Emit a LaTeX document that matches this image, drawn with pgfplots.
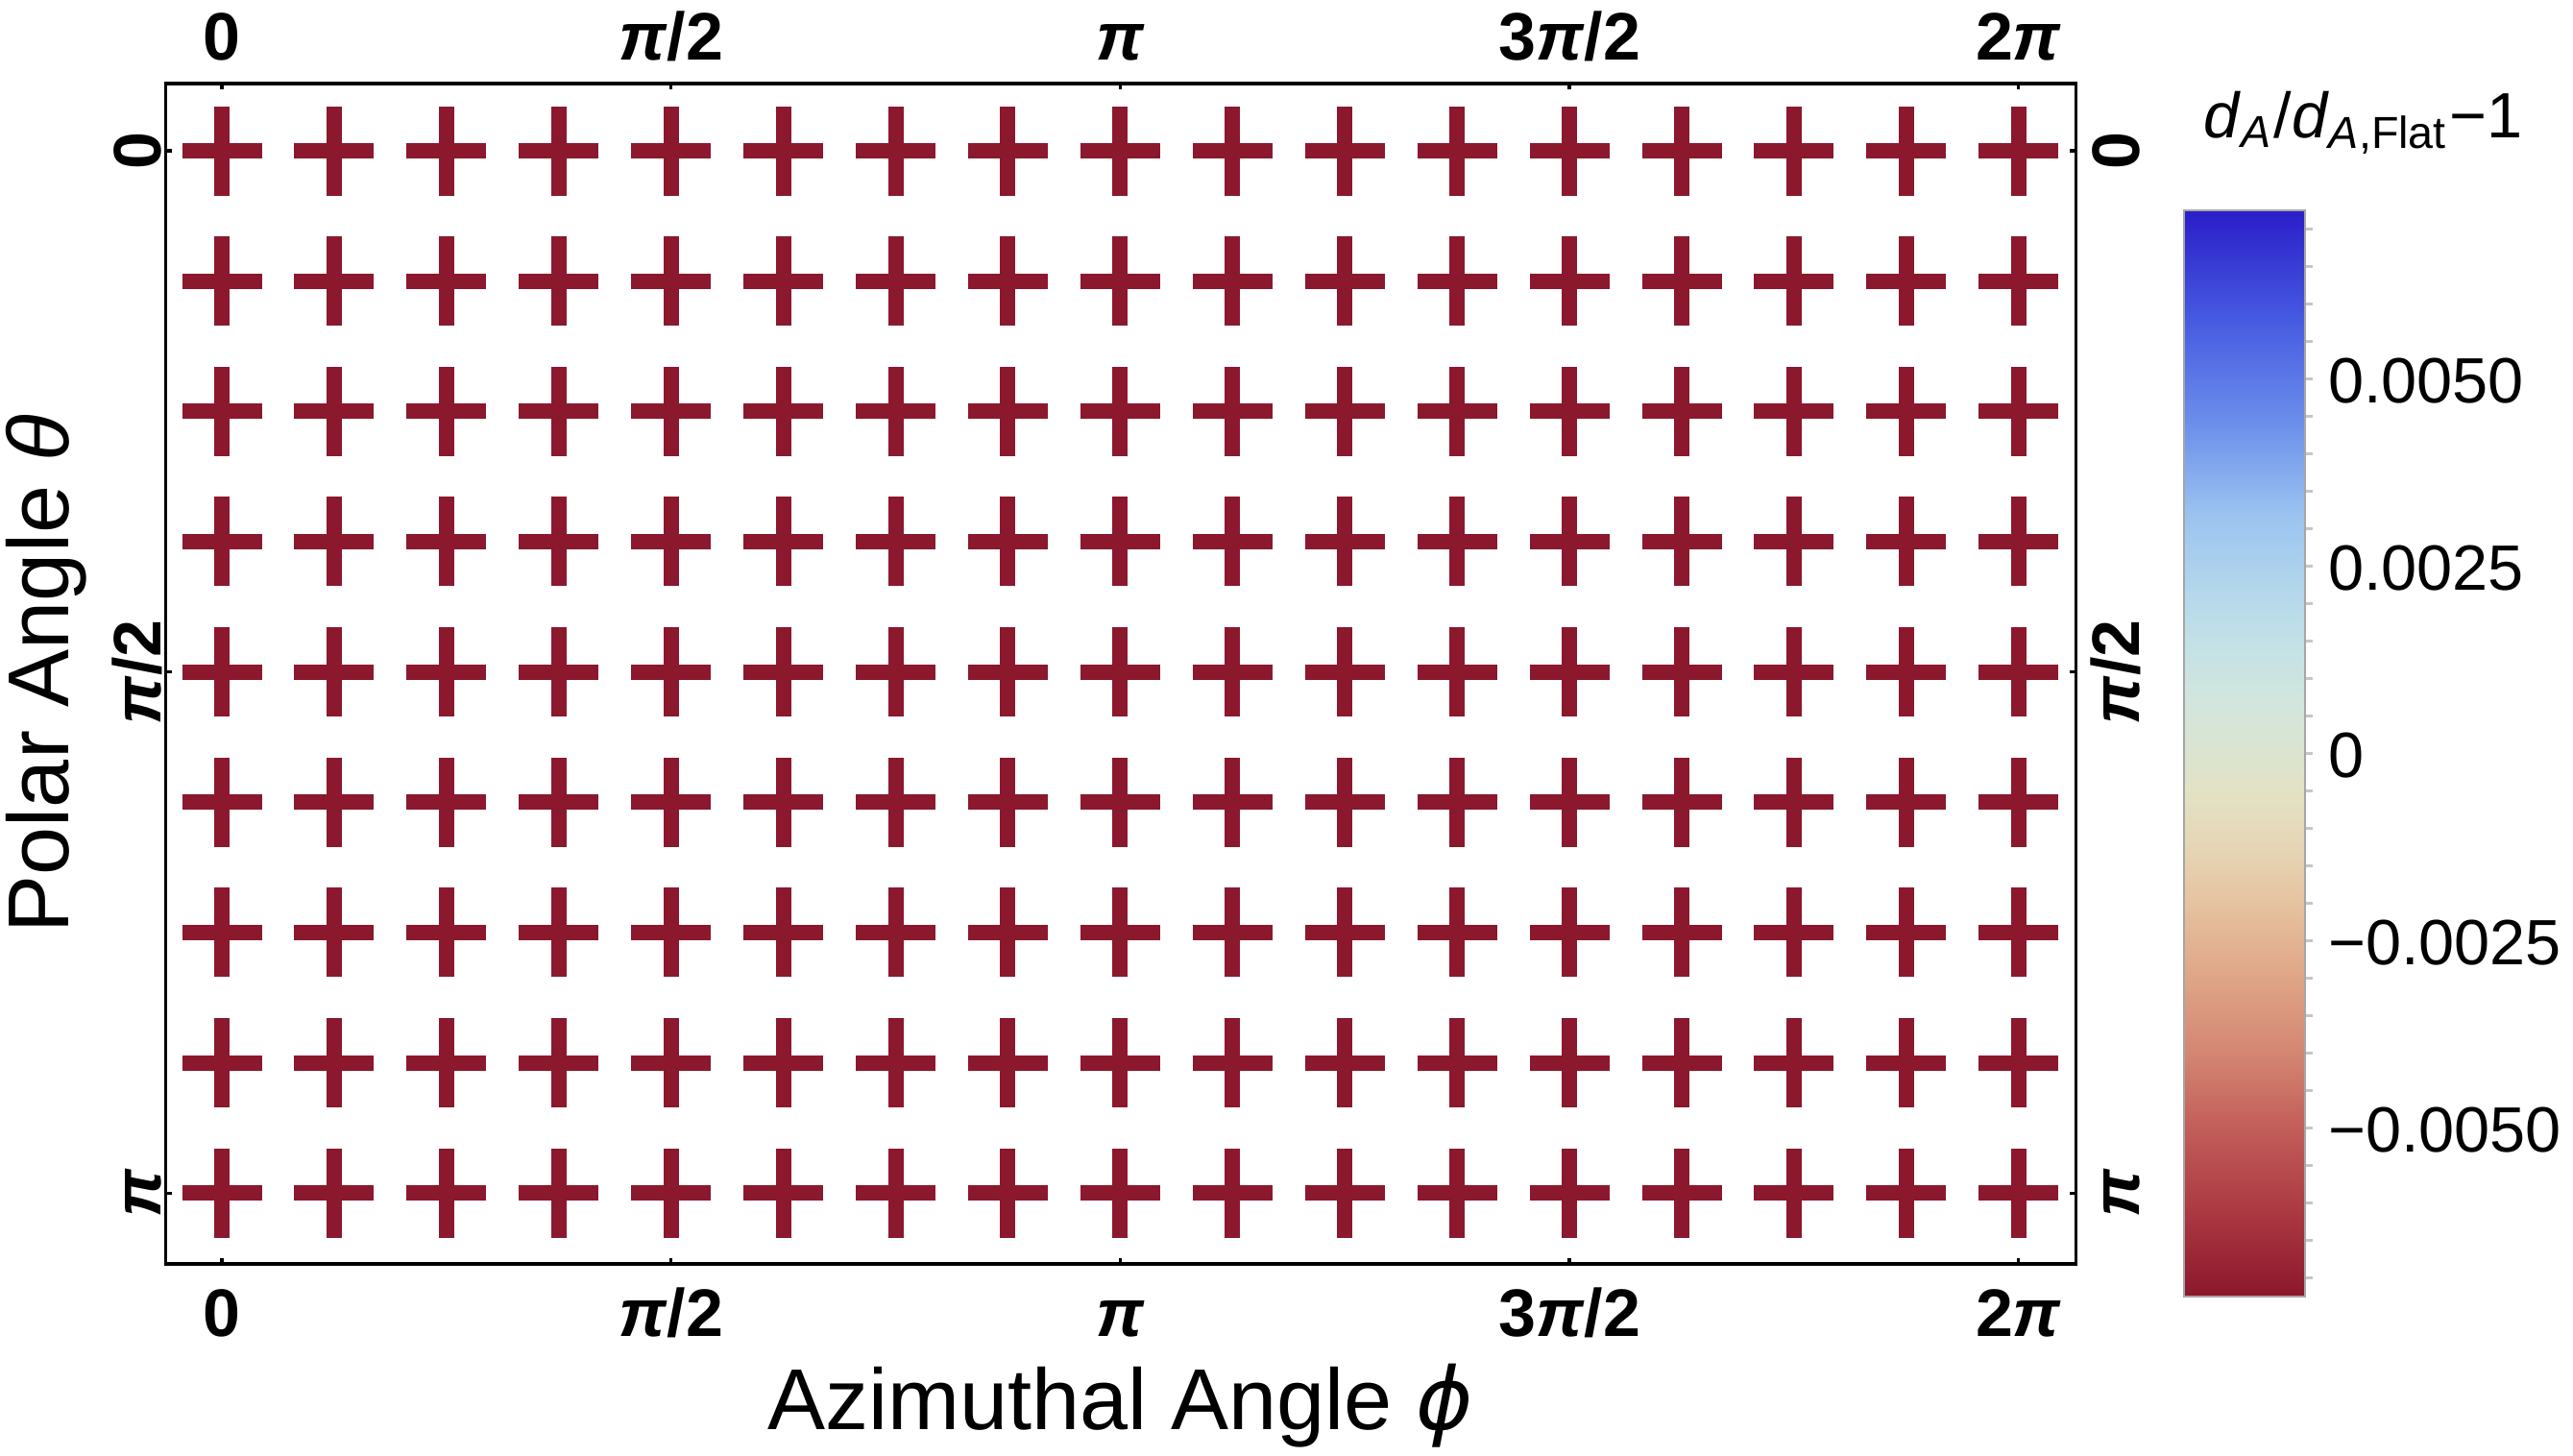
\documentclass[border=0pt]{standalone}
\usepackage{pgfplots}
\pgfplotsset{compat=1.18}
\usepackage{pgfplotstable}
\usepackage{fontspec}
\setmainfont{Liberation Sans}
\newfontfamily\dejavu{DejaVu Sans}
\usetikzlibrary{calc}

\definecolor{markred}{RGB}{139,24,45}

% colour scale of the bar
\pgfplotsset{colormap={dmap}{
  rgb255(0pt)=(139,23,44)
  rgb255(7.5pt)=(170,55,65)
  rgb255(15.8pt)=(195,95,90)
  rgb255(22.6pt)=(212,135,115)
  rgb255(29.4pt)=(223,165,135)
  rgb255(36.3pt)=(230,195,160)
  rgb255(41pt)=(230,212,180)
  rgb255(46pt)=(228,225,195)
  rgb255(50pt)=(220,228,208)
  rgb255(55pt)=(210,230,222)
  rgb255(60pt)=(195,225,230)
  rgb255(65pt)=(180,215,235)
  rgb255(72pt)=(155,195,240)
  rgb255(80pt)=(110,145,235)
  rgb255(90pt)=(70,90,225)
  rgb255(100pt)=(42,30,200)
}}

% phi and theta in units of pi, dA = d_A/d_A,flat - 1 (all at the bottom of the scale)
\pgfplotstableread[row sep=\\]{
phi theta dA\\
0 0 -0.00725\\ 0.125 0 -0.00725\\ 0.25 0 -0.00725\\ 0.375 0 -0.00725\\ 0.5 0 -0.00725\\ 0.625 0 -0.00725\\ 0.75 0 -0.00725\\ 0.875 0 -0.00725\\ 1 0 -0.00725\\ 1.125 0 -0.00725\\ 1.25 0 -0.00725\\ 1.375 0 -0.00725\\ 1.5 0 -0.00725\\ 1.625 0 -0.00725\\ 1.75 0 -0.00725\\ 1.875 0 -0.00725\\ 2 0 -0.00725\\
0 0.125 -0.00725\\ 0.125 0.125 -0.00725\\ 0.25 0.125 -0.00725\\ 0.375 0.125 -0.00725\\ 0.5 0.125 -0.00725\\ 0.625 0.125 -0.00725\\ 0.75 0.125 -0.00725\\ 0.875 0.125 -0.00725\\ 1 0.125 -0.00725\\ 1.125 0.125 -0.00725\\ 1.25 0.125 -0.00725\\ 1.375 0.125 -0.00725\\ 1.5 0.125 -0.00725\\ 1.625 0.125 -0.00725\\ 1.75 0.125 -0.00725\\ 1.875 0.125 -0.00725\\ 2 0.125 -0.00725\\
0 0.25 -0.00725\\ 0.125 0.25 -0.00725\\ 0.25 0.25 -0.00725\\ 0.375 0.25 -0.00725\\ 0.5 0.25 -0.00725\\ 0.625 0.25 -0.00725\\ 0.75 0.25 -0.00725\\ 0.875 0.25 -0.00725\\ 1 0.25 -0.00725\\ 1.125 0.25 -0.00725\\ 1.25 0.25 -0.00725\\ 1.375 0.25 -0.00725\\ 1.5 0.25 -0.00725\\ 1.625 0.25 -0.00725\\ 1.75 0.25 -0.00725\\ 1.875 0.25 -0.00725\\ 2 0.25 -0.00725\\
0 0.375 -0.00725\\ 0.125 0.375 -0.00725\\ 0.25 0.375 -0.00725\\ 0.375 0.375 -0.00725\\ 0.5 0.375 -0.00725\\ 0.625 0.375 -0.00725\\ 0.75 0.375 -0.00725\\ 0.875 0.375 -0.00725\\ 1 0.375 -0.00725\\ 1.125 0.375 -0.00725\\ 1.25 0.375 -0.00725\\ 1.375 0.375 -0.00725\\ 1.5 0.375 -0.00725\\ 1.625 0.375 -0.00725\\ 1.75 0.375 -0.00725\\ 1.875 0.375 -0.00725\\ 2 0.375 -0.00725\\
0 0.5 -0.00725\\ 0.125 0.5 -0.00725\\ 0.25 0.5 -0.00725\\ 0.375 0.5 -0.00725\\ 0.5 0.5 -0.00725\\ 0.625 0.5 -0.00725\\ 0.75 0.5 -0.00725\\ 0.875 0.5 -0.00725\\ 1 0.5 -0.00725\\ 1.125 0.5 -0.00725\\ 1.25 0.5 -0.00725\\ 1.375 0.5 -0.00725\\ 1.5 0.5 -0.00725\\ 1.625 0.5 -0.00725\\ 1.75 0.5 -0.00725\\ 1.875 0.5 -0.00725\\ 2 0.5 -0.00725\\
0 0.625 -0.00725\\ 0.125 0.625 -0.00725\\ 0.25 0.625 -0.00725\\ 0.375 0.625 -0.00725\\ 0.5 0.625 -0.00725\\ 0.625 0.625 -0.00725\\ 0.75 0.625 -0.00725\\ 0.875 0.625 -0.00725\\ 1 0.625 -0.00725\\ 1.125 0.625 -0.00725\\ 1.25 0.625 -0.00725\\ 1.375 0.625 -0.00725\\ 1.5 0.625 -0.00725\\ 1.625 0.625 -0.00725\\ 1.75 0.625 -0.00725\\ 1.875 0.625 -0.00725\\ 2 0.625 -0.00725\\
0 0.75 -0.00725\\ 0.125 0.75 -0.00725\\ 0.25 0.75 -0.00725\\ 0.375 0.75 -0.00725\\ 0.5 0.75 -0.00725\\ 0.625 0.75 -0.00725\\ 0.75 0.75 -0.00725\\ 0.875 0.75 -0.00725\\ 1 0.75 -0.00725\\ 1.125 0.75 -0.00725\\ 1.25 0.75 -0.00725\\ 1.375 0.75 -0.00725\\ 1.5 0.75 -0.00725\\ 1.625 0.75 -0.00725\\ 1.75 0.75 -0.00725\\ 1.875 0.75 -0.00725\\ 2 0.75 -0.00725\\
0 0.875 -0.00725\\ 0.125 0.875 -0.00725\\ 0.25 0.875 -0.00725\\ 0.375 0.875 -0.00725\\ 0.5 0.875 -0.00725\\ 0.625 0.875 -0.00725\\ 0.75 0.875 -0.00725\\ 0.875 0.875 -0.00725\\ 1 0.875 -0.00725\\ 1.125 0.875 -0.00725\\ 1.25 0.875 -0.00725\\ 1.375 0.875 -0.00725\\ 1.5 0.875 -0.00725\\ 1.625 0.875 -0.00725\\ 1.75 0.875 -0.00725\\ 1.875 0.875 -0.00725\\ 2 0.875 -0.00725\\
0 1 -0.00725\\ 0.125 1 -0.00725\\ 0.25 1 -0.00725\\ 0.375 1 -0.00725\\ 0.5 1 -0.00725\\ 0.625 1 -0.00725\\ 0.75 1 -0.00725\\ 0.875 1 -0.00725\\ 1 1 -0.00725\\ 1.125 1 -0.00725\\ 1.25 1 -0.00725\\ 1.375 1 -0.00725\\ 1.5 1 -0.00725\\ 1.625 1 -0.00725\\ 1.75 1 -0.00725\\ 1.875 1 -0.00725\\ 2 1 -0.00725\\
}\grid

\begin{document}
\begin{tikzpicture}
\begin{axis}[name=main,
  scale only axis, width=298.3pt, height=184.35pt,
  xmin=-0.0625, xmax=2.0636,
  ymin=-0.0645, ymax=1.068, y dir=reverse,
  axis line style={line width=0.5pt},
  tick align=inside, major tick length=0.9pt,
  tick style={line width=0.5pt, black},
  xtick={0,0.5,1,1.5,2},
  xticklabels={0,\textit{π}/2,\textit{π},3\textit{π}/2,2\textit{π}},
  ytick={0,0.5,1},
  yticklabels={0,\textit{π}/2,\textit{π}},
  ticklabel style={font=\fontsize{10.5}{12}\selectfont\bfseries, text height=7.6pt, text depth=0pt},
  xticklabel style={anchor=north, inner sep=0pt, yshift=-3.5pt},
  yticklabel style={rotate=90, anchor=south, inner sep=0pt, yshift=0.6pt},
  xlabel={Azimuthal Angle {\dejavu\itshape ϕ}},
  ylabel={Polar Angle \textit{θ}},
  label style={font=\fontsize{13.5}{16}\selectfont},
  xlabel style={at={(axis description cs:0.5,0)}, anchor=center, yshift=-22.2pt},
  ylabel style={at={(axis description cs:0,0.5)}, anchor=center, rotate=0, yshift=18.7pt},
  colormap name=dmap,
  point meta min=-0.00725, point meta max=0.00725,
  colorbar,
  colorbar/width=18.9pt,
  colorbar style={
    at={(parent axis.north east)}, anchor=north west,
    xshift=8.4pt, yshift=-19.8pt,
    scale only axis, width=18.9pt, height=169.65pt,
    scaled y ticks=false,
    axis line style={gray!70, line width=0.3pt},
    ytick pos=right,
    ytick={-0.005,-0.0025,0,0.0025,0.005},
    yticklabels={−0.0050,−0.0025,0,0.0025,0.0050},
    minor ytick={-0.007,-0.0065,-0.006,-0.0055,-0.0045,-0.004,-0.0035,-0.003,-0.002,-0.0015,-0.001,-0.0005,0.0005,0.001,0.0015,0.002,0.003,0.0035,0.004,0.0045,0.0055,0.006,0.0065,0.007},
    tick align=outside, major tick length=1.2pt, minor tick length=1.2pt,
    tick style={gray!45, line width=0.35pt},
    yticklabel style={font=\fontsize{10}{12}\selectfont\mdseries, anchor=west, inner sep=0pt, xshift=2.2pt},
  },
]
\addplot[only marks, mark=+, mark size=6.975pt, color=markred,
  mark options={line width=2.4pt, xscale=0.892}]
  table[x=phi, y=theta] {\grid};
\end{axis}
% same frame again, for the labels on top and right
\begin{axis}[
  scale only axis, width=298.3pt, height=184.35pt,
  xmin=-0.0625, xmax=2.0636,
  ymin=-0.0645, ymax=1.068, y dir=reverse,
  axis line style={draw=none}, tick style={draw=none},
  xtick={0,0.5,1,1.5,2},
  xticklabels={0,\textit{π}/2,\textit{π},3\textit{π}/2,2\textit{π}},
  ytick={0,0.5,1},
  yticklabels={0,\textit{π}/2,\textit{π}},
  xticklabel pos=upper, yticklabel pos=right,
  ticklabel style={font=\fontsize{10.5}{12}\selectfont\bfseries, text height=7.6pt, text depth=0pt},
  xticklabel style={anchor=south, inner sep=0pt, yshift=3.4pt},
  yticklabel style={rotate=90, anchor=north, inner sep=0pt, yshift=-2.2pt},
]
\end{axis}
\node[font=\fontsize{10}{12}\selectfont, anchor=center] at ($(main.north east)+(44.85pt,-6.15pt)$)
  {\textit{d}\textsubscript{\textit{A}}/\textit{d}\textsubscript{\textit{A},Flat}−1};
\pgfresetboundingbox
\path[use as bounding box] ($(main.north west)+(-25.89pt,13.05pt)$) rectangle ($(main.north west)+(375.96pt,-214.35pt)$);
\end{tikzpicture}
\end{document}
